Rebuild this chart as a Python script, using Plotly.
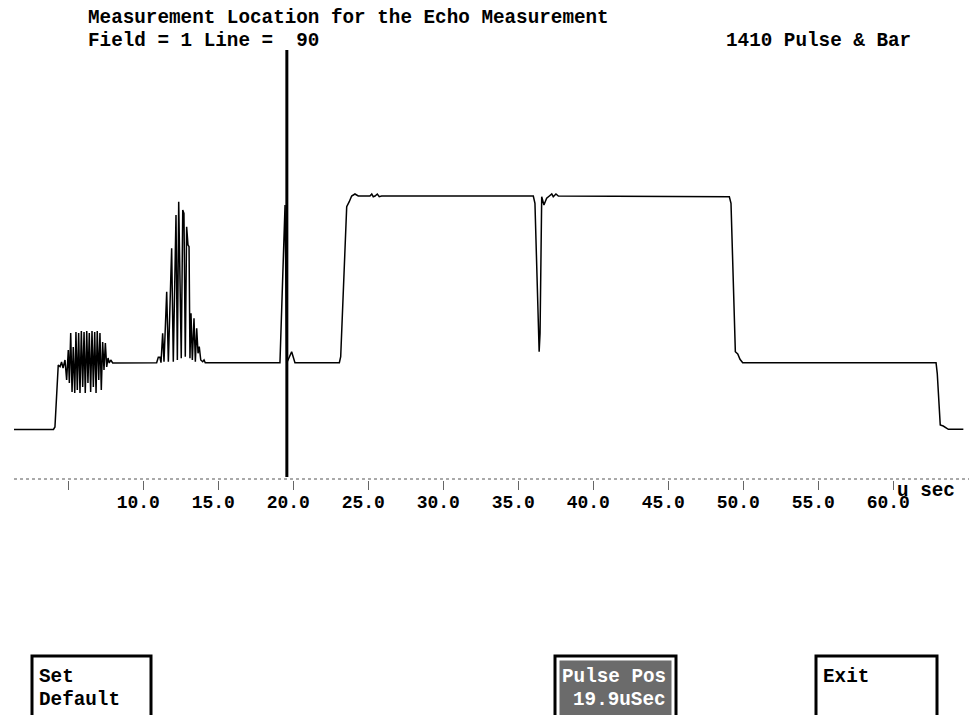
import plotly.graph_objects as go

# ---- waveform data (time in microseconds, amplitude in display units) ----
lead_t = [1.38, 4.01, 4.11, 4.33, 4.45, 4.55, 4.65]
lead_a = [49.5, 49.5, 52, 114, 112.3, 117, 111]

burst1_t = [4.78, 4.89, 5.00, 5.07, 5.16, 5.25, 5.33, 5.43, 5.51, 5.60, 5.69, 5.78,
            5.87, 5.96, 6.05, 6.13, 6.23, 6.31, 6.40, 6.49, 6.58, 6.67, 6.76, 6.85,
            6.93, 7.03, 7.11, 7.20, 7.29, 7.38, 7.47, 7.56, 7.65, 7.73, 7.83, 7.96]
burst1_a = [119, 99, 129, 96, 146, 87, 132, 86, 147, 89, 146, 86,
            148, 92, 147, 86, 148, 96, 146, 87, 148, 92, 147, 86,
            148, 99, 146, 89, 137, 109, 136, 112, 121, 116, 119, 116]

burst2_t = [10.89, 11.00, 11.11, 11.18, 11.29, 11.38, 11.56, 11.67, 11.78, 11.89,
            12.00, 12.09, 12.18, 12.27, 12.36, 12.45, 12.53, 12.63, 12.71, 12.80,
            12.89, 12.98, 13.05, 13.11, 13.18, 13.27, 13.38, 13.47, 13.56, 13.65,
            13.73, 13.83, 13.96, 14.05, 14.13]
burst2_a = [116.3, 121.7, 121.7, 116.3, 145.7, 117.3, 187.3, 117.3, 186, 230.7,
            117.3, 212.3, 264, 119, 277.3, 195.7, 120.7, 269, 265.7, 122.3,
            252.3, 234, 232.3, 120.7, 165.7, 119, 160.7, 117.3, 150.7, 125.7,
            132.3, 119, 117.3, 119, 116.3]

echo_t = [19.11, 19.45, 19.56, 19.89, 20.11]
echo_a = [116.3, 274, 116, 127.3, 116.3]

bar_t = [23.07, 23.16, 23.23, 23.33, 23.45, 23.56, 23.73, 23.89, 24.11, 24.33,
         25.11, 25.23, 25.33, 25.45, 25.60, 25.73, 25.89,
         36.00, 36.11, 36.23, 36.39, 36.45, 36.56, 36.71, 36.89, 37.07, 37.23,
         37.33, 37.51, 37.67,
         49.07, 49.18, 49.27, 49.38, 49.47, 49.63, 49.78, 49.96]
bar_a = [116.3, 122.3, 149, 199, 249, 272.3, 277.3, 283, 285, 283,
         283, 285, 282.3, 283, 285, 282.3, 283,
         283, 275.7, 199, 127.3, 145.7, 282.3, 274, 280.7, 283, 285,
         282.3, 285, 283,
         282.3, 275.7, 232.3, 165.7, 127.3, 125, 119.7, 116.3]

tail_t = [62.85, 62.93, 63.03, 63.13, 63.33, 63.67, 64.67]
tail_a = [116.3, 105.7, 79, 54, 53, 49.7, 49.7]

cursor_us = 19.57
cursor_span = [2, 429]
axis_span_us = [1.38, 65.05]

tick_vals = [5, 10, 15, 20, 25, 30, 35, 40, 45, 50, 55, 60]
tick_text = ["", "10.0", "15.0", "20.0", "25.0", "30.0", "35.0", "40.0",
             "45.0", "50.0", "55.0", "60.0"]

time_us = lead_t + burst1_t + burst2_t + echo_t + bar_t + tail_t
amplitude = lead_a + burst1_a + burst2_a + echo_a + bar_a + tail_a

W, H = 969, 715
PLOT_H = 480
FONT = "Liberation Mono"


def px(x):
    return x / W


def py(y):
    return (PLOT_H - y) / PLOT_H


fig = go.Figure()

# dotted baseline axis
fig.add_trace(go.Scatter(x=axis_span_us, y=[0, 0], mode="lines",
                         line=dict(color="#555555", width=1, dash="dot"),
                         hoverinfo="skip", showlegend=False))
# waveform
fig.add_trace(go.Scatter(x=time_us, y=amplitude, mode="lines",
                         line=dict(color="black", width=1.5),
                         showlegend=False))
# cursor
fig.add_trace(go.Scatter(x=[cursor_us, cursor_us], y=cursor_span, mode="lines",
                         line=dict(color="black", width=3),
                         hoverinfo="skip", showlegend=False))

bold = dict(family=FONT, size=19.3, color="black", weight="bold")

annotations = [
    dict(text="Measurement Location for the Echo Measurement", x=px(86), y=py(18),
         xanchor="left", yanchor="middle"),
    dict(text="Field = 1 Line =  90", x=px(86), y=py(41),
         xanchor="left", yanchor="middle"),
    dict(text="1410 Pulse & Bar", x=px(913), y=py(41),
         xanchor="right", yanchor="middle"),
    dict(text="u sec", x=px(895), y=py(491),
         xanchor="left", yanchor="middle"),
    dict(text="Set", x=px(37), y=py(677), xanchor="left", yanchor="middle"),
    dict(text="Default", x=px(37), y=py(700), xanchor="left", yanchor="middle"),
    dict(text="Exit", x=px(821), y=py(677), xanchor="left", yanchor="middle"),
]
anns = []
for a in annotations:
    a.update(xref="paper", yref="paper", showarrow=False, font=bold)
    anns.append(a)
white = dict(bold, color="white")
anns.append(dict(text="Pulse Pos", x=px(560), y=py(677), xref="paper", yref="paper",
                 xanchor="left", yanchor="middle", showarrow=False, font=white))
anns.append(dict(text="19.9uSec", x=px(571), y=py(700), xref="paper", yref="paper",
                 xanchor="left", yanchor="middle", showarrow=False, font=white))

shapes = []
for (x0, x1) in [(32, 151), (555, 676), (816, 937)]:
    shapes.append(dict(type="rect", xref="paper", yref="paper",
                       x0=px(x0), x1=px(x1), y0=py(656), y1=py(740),
                       line=dict(color="black", width=3), fillcolor="white",
                       layer="below"))
shapes.append(dict(type="rect", xref="paper", yref="paper",
                   x0=px(559.5), x1=px(671.5), y0=py(660.5), y1=py(740),
                   line=dict(width=0), fillcolor="#6b6b6b", layer="below"))

fig.update_layout(
    width=W, height=H,
    margin=dict(l=0, r=0, t=0, b=H - PLOT_H, pad=0),
    paper_bgcolor="white", plot_bgcolor="white",
    annotations=anns, shapes=shapes,
    xaxis=dict(range=[(0 + 6.7) / 15, (W + 6.7) / 15],
               showgrid=False, zeroline=False, showline=False,
               ticks="outside", ticklen=9, tickwidth=1, tickcolor="#666666",
               tickvals=tick_vals, ticktext=tick_text,
               ticklabelshift=-5, ticklabelstandoff=-4,
               tickfont=dict(family=FONT, size=18, color="black", weight="bold")),
    yaxis=dict(range=[-1, PLOT_H - 1], visible=False),
)

fig.write_html("out.html")
